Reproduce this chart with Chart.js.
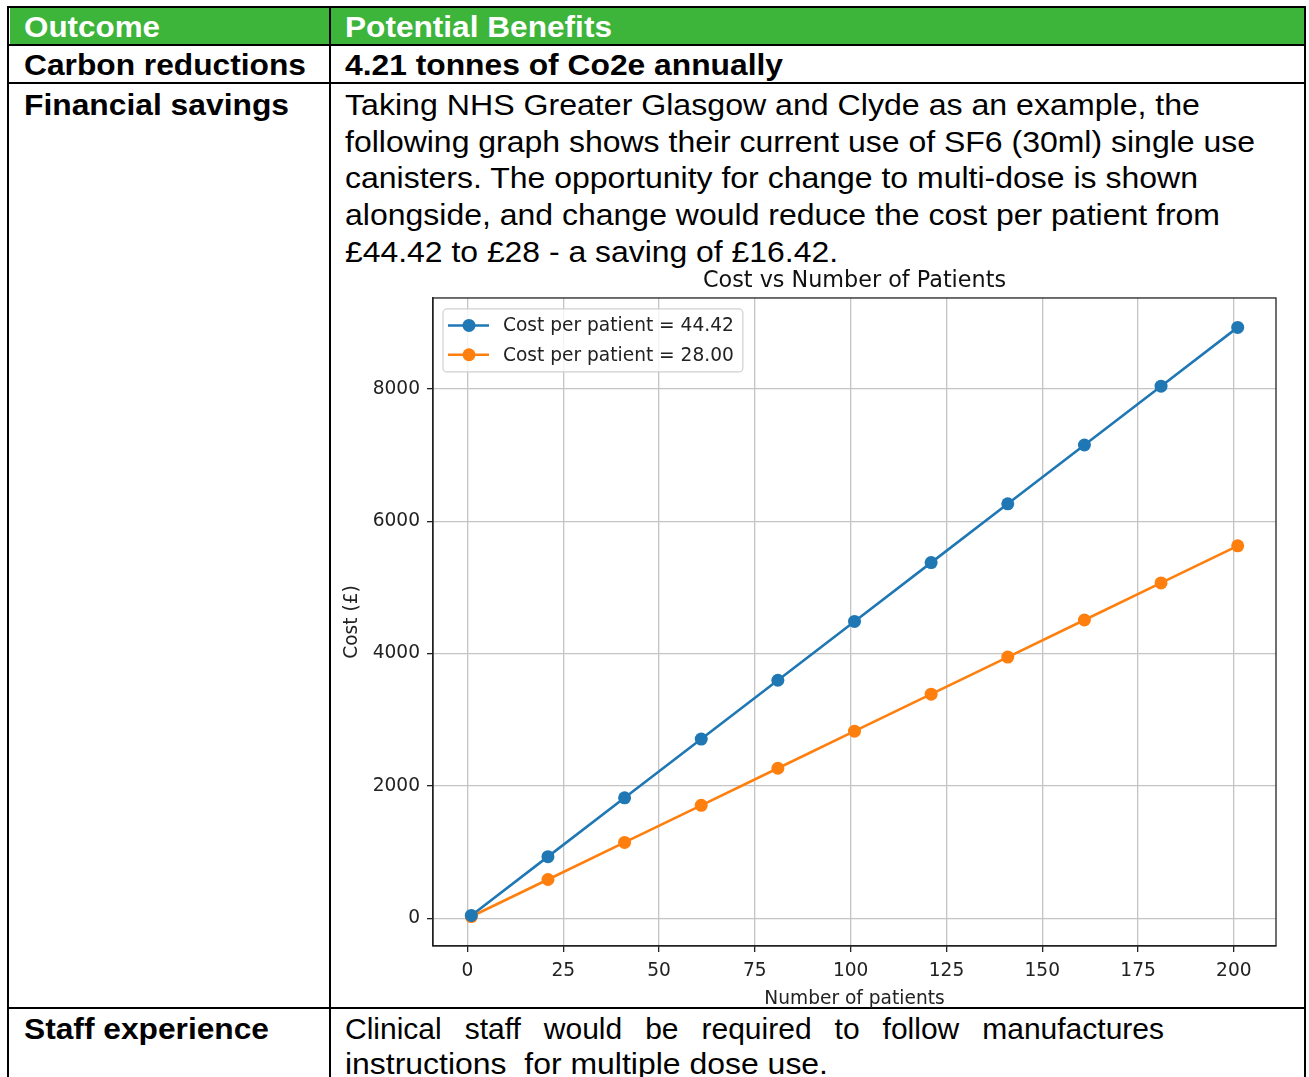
<!DOCTYPE html>
<html>
<head>
<meta charset="utf-8">
<script src="https://cdn.jsdelivr.net/npm/chart.js@4.4.1/dist/chart.umd.min.js"></script>
<style>
  html, body { margin: 0; padding: 0; background: #fff; }
  body { width: 1309px; height: 1077px; position: relative; overflow: hidden; }
  .ln { position: absolute; background: #000; }
  .t { position: absolute; white-space: nowrap; height: 40px; line-height: 40px;
       font-family: "Liberation Sans", Arial, sans-serif; font-size: 30px; color: #000;
       transform-origin: 0 50%; }
  .b { font-weight: bold; font-size: 29px; }
  .w { color: #fff; }
  #chartWrap { position: absolute; left: 335px; top: 265px; width: 955px; height: 745px; }
</style>
</head>
<body>
<div class="ln" style="left:10px;top:8px;width:1294px;height:36px;background:#3db43a;"></div>
<div class="ln" style="left:7px;top:6px;width:1299px;height:2px;"></div>
<div class="ln" style="left:7px;top:44px;width:1299px;height:2px;"></div>
<div class="ln" style="left:7px;top:82px;width:1299px;height:2px;"></div>
<div class="ln" style="left:7px;top:1007px;width:1299px;height:2px;"></div>
<div class="ln" style="left:7px;top:6px;width:2px;height:1071px;"></div>
<div class="ln" style="left:329px;top:6px;width:2px;height:1071px;"></div>
<div class="ln" style="left:1304px;top:6px;width:2px;height:1071px;"></div>

<div class="t b w" data-w="136" style="left:24px;top:7px;">Outcome</div>
<div class="t b w" data-w="267" style="left:345px;top:7px;">Potential Benefits</div>
<div class="t b" data-w="282" style="left:24px;top:45px;">Carbon reductions</div>
<div class="t b" data-w="438" style="left:345px;top:45px;">4.21 tonnes of Co2e annually</div>
<div class="t b" data-w="265" style="left:24px;top:85px;">Financial savings</div>
<div class="t" data-w="855" style="left:345px;top:85px;">Taking NHS Greater Glasgow and Clyde as an example, the</div>
<div class="t" data-w="910" style="left:345px;top:121.8px;">following graph shows their current use of SF6 (30ml) single use</div>
<div class="t" data-w="853" style="left:345px;top:158.3px;">canisters. The opportunity for change to multi-dose is shown</div>
<div class="t" data-w="875" style="left:345px;top:195.3px;">alongside, and change would reduce the cost per patient from</div>
<div class="t" data-w="493" style="left:345px;top:231.8px;">£44.42 to £28 - a saving of £16.42.</div>
<div class="t b" data-w="245" style="left:24px;top:1009px;">Staff experience</div>
<div class="t" style="left:345px;top:1009px;width:819px;white-space:normal;text-align:justify;text-align-last:justify;">Clinical staff would be required to follow manufactures</div>
<div class="t" data-w="483" style="left:345px;top:1044px;">instructions&nbsp; for multiple dose use.</div>

<div id="chartWrap"><canvas id="c"></canvas></div>

<script>
// ---- data ----
const patients = [1, 21, 41, 61, 81, 101, 121, 141, 161, 181, 201];
const costHigh = [44.42, 932.82, 1821.22, 2709.62, 3598.02, 4486.42, 5374.82, 6263.22, 7151.62, 8040.02, 8928.42];
const costLow  = [28, 588, 1148, 1708, 2268, 2828, 3388, 3948, 4508, 5068, 5628];
const seriesLabels = ['Cost per patient = 44.42', 'Cost per patient = 28.00'];
const xTicks = [0, 25, 50, 75, 100, 125, 150, 175, 200];
const yTicks = [0, 2000, 4000, 6000, 8000];
const chartTitle = 'Cost vs Number of Patients';
const xTitle = 'Number of patients';
const yTitle = 'Cost (£)';

// fit table text widths
document.querySelectorAll('.t[data-w]').forEach(el => {
  const w = el.getBoundingClientRect().width;
  const target = parseFloat(el.dataset.w);
  el.style.transform = 'scaleX(' + (target / w) + ')';
});

const FONT = 'DejaVu Sans';
const BLUE = '#1f77b4', ORANGE = '#ff7f0e';

const framePlugin = {
  id: 'frame',
  afterDatasetsDraw(chart) {
    const ctx = chart.ctx, a = chart.chartArea;
    ctx.save();
    ctx.strokeStyle = '#222';
    ctx.lineWidth = 1.3;
    ctx.strokeRect(a.left, a.top, a.right - a.left, a.bottom - a.top);
    // legend (matplotlib style, upper left)
    ctx.font = '18.6px "' + FONT + '"';
    const ds = chart.data.datasets;
    let maxW = 0;
    ds.forEach(d => { maxW = Math.max(maxW, ctx.measureText(d.label).width); });
    const lx = a.left + 10, ly = a.top + 11;
    const lw = 60 + maxW + 9, lh = 63;
    ctx.beginPath();
    ctx.roundRect(lx, ly, lw, lh, 4);
    ctx.fillStyle = 'rgba(255,255,255,0.8)';
    ctx.fill();
    ctx.strokeStyle = '#d0d0d0';
    ctx.lineWidth = 1.2;
    ctx.stroke();
    ds.forEach((d, i) => {
      const cy = ly + 16.5 + i * 29.3;
      ctx.strokeStyle = d.borderColor;
      ctx.lineWidth = 2.6;
      ctx.beginPath();
      ctx.moveTo(lx + 5, cy);
      ctx.lineTo(lx + 46, cy);
      ctx.stroke();
      ctx.fillStyle = d.borderColor;
      ctx.beginPath();
      ctx.arc(lx + 26, cy, 6.5, 0, Math.PI * 2);
      ctx.fill();
      ctx.fillStyle = '#222';
      ctx.textBaseline = 'middle';
      ctx.textAlign = 'left';
      ctx.fillText(d.label, lx + 60, cy + 1);
    });
    ctx.restore();
  }
};

const commonScale = (ticksArr) => ({
  type: 'linear',
  afterBuildTicks: s => { s.ticks = ticksArr.map(v => ({ value: v })); },
  grid: { color: '#c4c4c4', lineWidth: 1.3, tickColor: '#222', tickLength: 6, tickWidth: 1.3, drawTicks: true },
  border: { display: true, color: '#222', width: 1.3 },
  ticks: { color: '#222', font: { family: FONT, size: 18.6 }, padding: 7, autoSkip: false, maxRotation: 0,
           callback: v => String(v) }
});

const xScale = commonScale(xTicks);
xScale.min = -9; xScale.max = 211;
xScale.afterFit = s => { s.height = 64; };
xScale.ticks.padding = 8;
xScale.title = { display: true, text: xTitle, color: '#222', font: { family: FONT, size: 18.6 }, padding: { top: 0, bottom: 0 } };

const yScale = commonScale(yTicks);
yScale.min = -417; yScale.max = 9373;
yScale.afterFit = s => { s.width = 98; };
yScale.title = { display: true, text: yTitle, color: '#222', font: { family: FONT, size: 18.6 }, padding: { top: 6.3, bottom: 0 } };

new Chart(document.getElementById('c'), {
  type: 'line',
  data: {
    datasets: [
      { label: seriesLabels[0], data: patients.map((x, i) => ({ x: x, y: costHigh[i] })),
        borderColor: BLUE, backgroundColor: BLUE, pointBackgroundColor: BLUE, borderWidth: 2.6,
        pointRadius: 6.5, pointBorderWidth: 0, pointHoverRadius: 6.5, tension: 0, fill: false },
      { label: seriesLabels[1], data: patients.map((x, i) => ({ x: x, y: costLow[i] })),
        borderColor: ORANGE, backgroundColor: ORANGE, pointBackgroundColor: ORANGE, borderWidth: 2.6,
        pointRadius: 6.5, pointBorderWidth: 0, pointHoverRadius: 6.5, tension: 0, fill: false }
    ]
  },
  options: {
    responsive: true,
    maintainAspectRatio: false,
    animation: false,
    events: [],
    layout: { padding: { left: 0, right: 14, top: 0, bottom: 0 } },
    plugins: {
      legend: { display: false },
      tooltip: { enabled: false },
      title: { display: true, text: chartTitle, fullSize: false, color: '#111',
               font: { family: FONT, size: 22.3, weight: 'normal' }, padding: { top: 2.6, bottom: 3.6 } }
    },
    scales: { x: xScale, y: yScale }
  },
  plugins: [framePlugin]
});
</script>
</body>
</html>
